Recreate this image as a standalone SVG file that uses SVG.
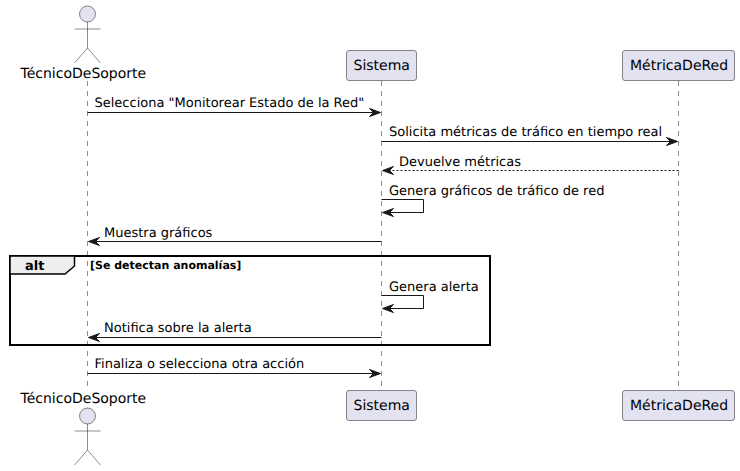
<svg xmlns="http://www.w3.org/2000/svg" width="740" height="471" viewBox="0 0 740 471">
<style>
text{font-family:"DejaVu Sans",sans-serif;fill:#000;text-rendering:geometricPrecision}
.n{font-size:14px}
.m{font-size:13px}
.life{stroke:#181818;stroke-width:.5;stroke-dasharray:5,5;fill:none}
.box{fill:#E2E2F0;stroke:#181818;stroke-width:.5}
.act{fill:none;stroke:#181818;stroke-width:.5}
.c{fill:none;stroke:#181818;stroke-width:1}
.h{fill:#181818;stroke:#181818;stroke-width:1}
</style>
<defs>
<path id="ar" d="M0,0 L-11,-4 L-7,0 L-11,4 Z"/>
<path id="al" d="M0,0 L11,-4 L7,0 L11,4 Z"/>
<g id="stick"><circle cx="0" cy="14" r="8" class="box"/><path class="act" d="M0,22V48M-13,29H13M0,48L-13,63M0,48L13,63"/></g>
</defs>
<g id="lifelines">
<path class="life" d="M87.5,81V391"/>
<path class="life" d="M381.5,81V391"/>
<path class="life" d="M678.5,81V391"/>
</g>
<g id="actor-top"><use href="#stick" x="87.5" y="0"/><text class="n" x="20.5" y="78">TécnicoDeSoporte</text></g>
<g id="sistema-top"><rect class="box" x="346.5" y="50.5" width="70" height="30" rx="2.5"/><text class="n" x="353.5" y="70">Sistema</text></g>
<g id="metrica-top"><rect class="box" x="622.5" y="50.5" width="112" height="30" rx="2.5"/><text class="n" x="630" y="70">MétricaDeRed</text></g>
<g id="actor-bottom"><text class="n" x="20.5" y="403">TécnicoDeSoporte</text><use href="#stick" x="87.5" y="402"/></g>
<g id="sistema-bottom"><rect class="box" x="346.5" y="390.5" width="70" height="30" rx="2.5"/><text class="n" x="353.5" y="410">Sistema</text></g>
<g id="metrica-bottom"><rect class="box" x="622.5" y="390.5" width="112" height="30" rx="2.5"/><text class="n" x="630" y="410">MétricaDeRed</text></g>
<g id="alt-frame">
<rect x="10" y="256" width="480" height="89" fill="none" stroke="#000" stroke-width="2"/>
<path d="M10,256H74.5V266L65,274H10Z" fill="#EEE" stroke="#000" stroke-width="1.5"/>
<text x="25" y="270" font-size="13" font-weight="bold">alt</text>
<text x="90" y="269" font-size="11" font-weight="bold">[Se detectan anomalías]</text>
</g>
<g id="connectors">
<path class="c" d="M87.5,112.5H375"/><use href="#ar" class="h" x="380.5" y="112.5"/>
<path class="c" d="M381.5,141.5H672"/><use href="#ar" class="h" x="677.5" y="141.5"/>
<path class="c" stroke-dasharray="2,2" d="M678.5,170.5H388"/><use href="#al" class="h" x="382.5" y="170.5"/>
<path class="c" d="M381.5,199.5H423.5V212.5H388"/><use href="#al" class="h" x="382.5" y="212.5"/>
<path class="c" d="M381.5,241.5H94"/><use href="#al" class="h" x="88.5" y="241.5"/>
<path class="c" d="M381.5,295.5H423.5V308.5H388"/><use href="#al" class="h" x="382.5" y="308.5"/>
<path class="c" d="M381.5,337.5H94"/><use href="#al" class="h" x="88.5" y="337.5"/>
<path class="c" d="M87.5,373.5H375"/><use href="#ar" class="h" x="380.5" y="373.5"/>
</g>
<g id="labels">
<text class="m" x="94.5" y="107">Selecciona "Monitorear Estado de la Red"</text>
<text class="m" x="389" y="136">Solicita métricas de tráfico en tiempo real</text>
<text class="m" x="399" y="166">Devuelve métricas</text>
<text class="m" x="389" y="195">Genera gráficos de tráfico de red</text>
<text class="m" x="104" y="237">Muestra gráficos</text>
<text class="m" x="389" y="291">Genera alerta</text>
<text class="m" x="104" y="332">Notifica sobre la alerta</text>
<text class="m" x="94.5" y="368">Finaliza o selecciona otra acción</text>
</g>
</svg>
